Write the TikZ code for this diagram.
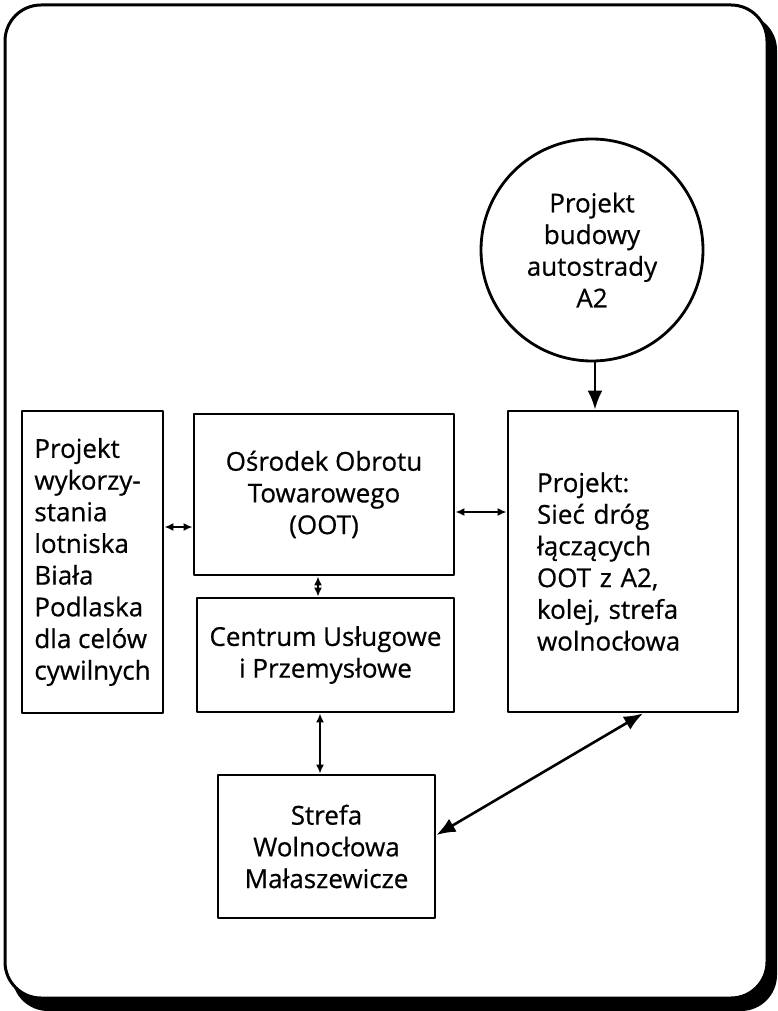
\documentclass[tikz,border=0pt]{standalone}
\usepackage{fontspec}
\setmainfont{Open Sans}
\newfontfamily\diagfont{Open Sans}[FakeBold=0.6]
\usetikzlibrary{arrows.meta}

\begin{document}
\begin{tikzpicture}[line cap=round,line join=round,x=1pt,y=-1pt,
	box/.style={draw=black,line width=2.8pt,inner sep=0pt,font=\diagfont\fontsize{26}{31.7}\selectfont},
	link/.style={line width=2.5pt,{Latex[length=9pt,width=8pt]}-{Latex[length=9pt,width=8pt]}},
	biglink/.style={line width=2.6pt,{Latex[length=19pt,width=15pt]}-{Latex[length=19pt,width=15pt]}}]
				\useasboundingbox (0,0) rectangle (777,1011);
				% ramka z cieniem
				\fill[color=black,rounded corners=36pt] (12,14) rectangle (777,1011);
				\draw[fill=white,line width=3pt,rounded corners=36pt] (5,5) rectangle (767,998);
				
				\node[box,circle,minimum size=222pt,align=center] (autostrada) at (592,250) {Projekt\\budowy\\autostrady\\A2};
				
				\node[box,minimum width=141pt,minimum height=302pt,align=left] (lotnisko) at (92.5,562) {Projekt\\wykorzy-\\stania\\lotniska\\Biała\\Podlaska\\dla celów\\cywilnych};
				\node[box,minimum width=260pt,minimum height=161pt,align=center] (oot) at (324,494.5) {Ośrodek Obrotu\\Towarowego\\(OOT)};
				\node[box,minimum width=257pt,minimum height=114pt,align=center] (centrum) at (325.5,655) {Centrum Usługowe\\i Przemysłowe};
				\node[box,minimum width=217pt,minimum height=143pt,align=center] (strefa) at (326.5,846.5) {Strefa\\Wolnocłowa\\Małaszewicze};
				\node[box,minimum width=230pt,minimum height=301pt,text width=172pt,align=left] (siec) at (623,561.5) {Projekt:\\Sieć dróg\\łączących\\OOT z A2,\\kolej, strefa\\wolnocłowa};
				
				\draw[line width=2.6pt,-{Latex[length=19pt,width=15pt]}] (autostrada.south -| 595,0) -- (siec.north -| 595,0);
				\draw[link] (lotnisko.east |- 0,527) -- (oot.west |- 0,527);
				\draw[link] (oot.east |- 0,512) -- (siec.west |- 0,512);
				\draw[link] (oot.south -| 318,0) -- (centrum.north -| 318,0);
				\draw[link] (centrum.south -| 320,0) -- (strefa.north -| 320,0);
				\draw[biglink] (strefa.east |- 0,835) -- (siec.south -| 643,0);
\end{tikzpicture}
\end{document}
